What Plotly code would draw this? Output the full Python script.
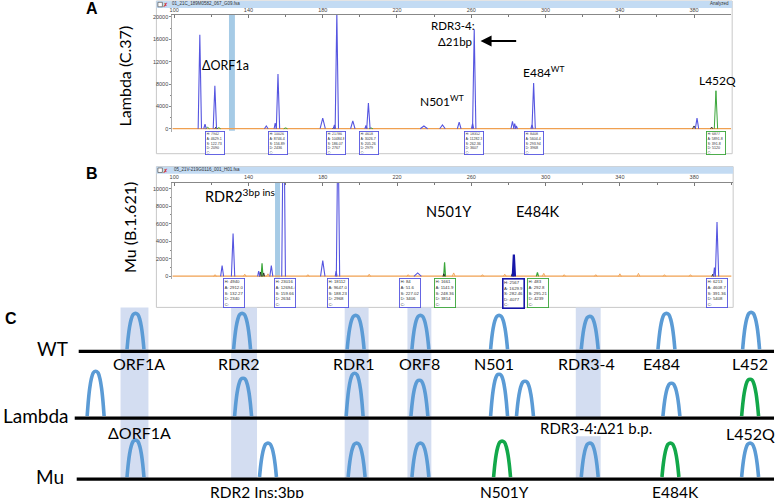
import plotly.graph_objects as go

W, H = 777, 498

# ---------------- Panel A (Lambda, C.37) electropherogram: peaks (bp, height RFU, half-width bp)
A_blue_pos = [113.8, 116.6, 121.9, 149.6, 154.4, 155.9, 180.0, 186.3, 187.6, 196.2, 203.3, 204.6,
              234.5, 244.5, 253.5, 260.7, 261.6, 282.2, 283.4, 284.3, 292.7, 293.6, 381.6]
A_blue_h = [16800, 800, 7700, 500, 1000, 9800, 1900, 700, 20800, 1400, 600, 4600,
            500, 700, 1200, 900, 17800, 1300, 900, 500, 700, 8200, 1900]
A_blue_w = [0.9, 0.7, 0.9, 1.0, 0.6, 0.9, 1.4, 0.6, 0.9, 1.2, 0.6, 0.9,
            2.0, 1.5, 1.0, 0.6, 0.9, 0.8, 0.6, 0.6, 0.6, 0.9, 0.9]
A_green_pos = [118.0, 124.0, 160.0, 206.0, 391.8]
A_green_h = [250, 200, 150, 150, 6800]
A_green_w = [1.0, 1.0, 1.0, 1.0, 0.9]
A_black_pos = [122.5, 186.0, 380.0, 389.5]
A_black_h = [300, 300, 500, 300]
A_black_w = [0.6, 0.6, 0.8, 0.6]

A_boxes_pos = [122.0, 156.0, 187.3, 205.0, 261.6, 293.6, 391.6]
A_boxes_dye = ["blue", "blue", "blue", "blue", "blue", "blue", "green"]
A_boxes_text = ["H: 7942<br>A: 4629.1<br>S: 122.73<br>D: 2090<br>C:",
                "H: 10026<br>A: 8746.4<br>S: 156.89<br>D: 2436<br>C:",
                "H: 21786<br>A: 10484.8<br>S: 186.07<br>D: 2767<br>C:",
                "H: 4618<br>A: 3026.7<br>S: 205.26<br>D: 2979<br>C:",
                "H: 18352<br>A: 11282.3<br>S: 262.36<br>D: 3607<br>C:",
                "H: 8408<br>A: 5604.4<br>S: 293.94<br>D: 3968<br>C:",
                "H: 6877<br>A: 5891.8<br>S: 391.8<br>D: 5120<br>C:"]

# ---------------- Panel B (Mu, B.1.621) electropherogram
B_blue_pos = [125.8, 131.7, 145.5, 152.3, 158.9, 180.0, 187.2, 188.2, 231.1, 390.9, 392.3]
B_blue_h = [1250, 4900, 600, 1250, 23000, 1800, 600, 18100, 400, 1000, 6200]
B_blue_w = [0.8, 0.9, 0.6, 0.8, 1.0, 1.2, 0.5, 0.9, 2.0, 0.5, 0.9]
B_navy_pos = [282.9]
B_navy_h = [2500]
B_navy_w = [0.6]
B_green_pos = [147.3, 245.6, 295.6]
B_green_h = [1500, 1600, 450]
B_green_w = [0.5, 0.5, 0.6]
B_black_pos = [146.4, 148.2, 245.2, 282.0, 390.0]
B_black_h = [500, 400, 300, 300, 250]
B_black_w = [0.5, 0.5, 0.5, 0.5, 0.5]
B_orange_pos = [122, 138, 150.5, 172, 205, 226, 250.5, 266, 278, 299, 310, 327, 340, 350, 364, 378]
B_orange_h = [200, 250, 300, 200, 250, 200, 400, 200, 250, 350, 200, 200, 300, 350, 200, 200]
B_orange_w = [0.8] * 16

B_boxes_pos = [132.0, 159.4, 188.4, 227.0, 245.8, 282.9, 295.8, 392.4]
B_boxes_dye = ["blue", "blue", "blue", "blue", "green", "navy", "green", "blue"]
B_boxes_text = ["H: 4940<br>A: 2912.0<br>S: 132.27<br>D: 2340<br>C:",
                "H: 23016<br>A: 12694.4<br>S: 159.66<br>D: 2634<br>C:",
                "H: 18112<br>A: 9647.0<br>S: 188.23<br>D: 2968<br>C:",
                "H: 84<br>A: 51.6<br>S: 227.02<br>D: 3406<br>C:",
                "H: 1661<br>A: 1141.9<br>S: 248.36<br>D: 3814<br>C:",
                "H: 2567<br>A: 1629.9<br>S: 282.46<br>D: 4077<br>C:",
                "H: 483<br>A: 292.8<br>S: 295.21<br>D: 4239<br>C:",
                "H: 6213<br>A: 4608.7<br>S: 391.36<br>D: 5408<br>C:"]

size_ticks = [100, 140, 180, 220, 260, 300, 340, 380]
A_rfu_ticks = [0, 4000, 8000, 12000, 16000, 20000]
B_rfu_ticks = [0, 2000, 4000, 6000, 8000, 10000]

# ---------------- Panel C schematic (relative fragment positions)
row_names = ["WT", "Lambda", "Mu"]
row_level = [147, 80, 19]
row_start = [76, 72, 74]
row_end = [774, 774, 774]

wt_pos = [133, 240, 354, 419, 498, 589, 666, 751]
wt_h = [38, 38, 36, 36, 36, 35, 38, 39]
wt_type = ["wt"] * 8
wt_labels = ["ORF1A", "RDR2", "RDR1", "ORF8", "N501", "RDR3-4", "E484", "L452"]
wt_label_x = [137, 237, 352, 418, 493, 586, 661, 750]

lambda_pos = [93, 241, 353, 418, 498, 524, 671, 750]
lambda_h = [47, 40, 45, 38, 44, 37, 35, 39]
lambda_type = ["wt", "wt", "wt", "wt", "wt", "wt", "wt", "mut"]
lambda_labels = ["ΔORF1A", "RDR3-4:Δ21 b.p.", "L452Q"]
lambda_label_x = [137, 595, 750]

mu_pos = [133, 266, 355, 419, 501, 589, 670, 750]
mu_h = [39, 36, 36, 36, 38, 36, 36, 36]
mu_type = ["wt", "wt", "wt", "wt", "mut", "wt", "mut", "wt"]
mu_labels = ["RDR2 Ins:3bp", "N501Y", "E484K"]
mu_label_x = [255, 503, 675]

# locus windows (shaded): centre, width, vertical segments
band_center = [132, 242, 355, 418, 587.5]
band_width = [28, 26, 24, 24, 25]
band_segments = [[(19, 191)], [(19, 191)], [(19, 191)], [(19, 191)], [(19, 62), (81, 191)]]

# arch glyph template (normalized)
ARCH_DX = [-1.0, -0.85, -0.7, -0.5, -0.3, -0.12, 0.0, 0.12, 0.3, 0.5, 0.7, 0.85, 1.0]
ARCH_DY = [0.0, 0.36, 0.62, 0.84, 0.96, 0.995, 1.0, 0.995, 0.96, 0.84, 0.62, 0.36, 0.0]

DYE = {"blue": "#5555e0", "green": "#3aa63a", "navy": "#1616a8", "black": "#222222",
       "orange": "#f0a050"}
ARCH_COL = {"wt": "#5b9bd5", "mut": "#12a84a"}
FONT = "Lato"


def px(v):
    return v / W


def py(v):
    return 1 - v / H


def peaks_xy(pos, hts, wid):
    xs, ys = [], []
    for p, h, w in zip(pos, hts, wid):
        xs += [p - w, p, p + w, None]
        ys += [0, h, 0, None]
    return xs, ys


fig = go.Figure()

# baselines
for ax_x, ax_y in (("x", "y"), ("x2", "y2")):
    fig.add_trace(go.Scatter(x=[99, 400], y=[30, 30], mode="lines", xaxis=ax_x, yaxis=ax_y,
                             line=dict(color=DYE["orange"], width=1.3), hoverinfo="skip",
                             showlegend=False))

A_sets = [("green", A_green_pos, A_green_h, A_green_w, 1.0),
          ("black", A_black_pos, A_black_h, A_black_w, 0.9),
          ("blue", A_blue_pos, A_blue_h, A_blue_w, 1.1)]
for dye, p, h, w, lw in A_sets:
    xs, ys = peaks_xy(p, h, w)
    fig.add_trace(go.Scatter(x=xs, y=ys, mode="lines", xaxis="x", yaxis="y",
                             line=dict(color=DYE[dye], width=lw), hoverinfo="skip", showlegend=False))

B_sets = [("orange", B_orange_pos, B_orange_h, B_orange_w, 0.9),
          ("green", B_green_pos, B_green_h, B_green_w, 1.2),
          ("black", B_black_pos, B_black_h, B_black_w, 0.9),
          ("blue", B_blue_pos, B_blue_h, B_blue_w, 1.1),
          ("navy", B_navy_pos, B_navy_h, B_navy_w, 2.2)]
for dye, p, h, w, lw in B_sets:
    xs, ys = peaks_xy(p, h, w)
    fig.add_trace(go.Scatter(x=xs, y=ys, mode="lines", xaxis="x2", yaxis="y2",
                             line=dict(color=DYE[dye], width=lw), hoverinfo="skip", showlegend=False))

# schematic rows
for lvl, x0, x1 in zip(row_level, row_start, row_end):
    fig.add_trace(go.Scatter(x=[x0, x1], y=[lvl, lvl], mode="lines", xaxis="x3", yaxis="y3",
                             line=dict(color="black", width=3.2), hoverinfo="skip", showlegend=False))

HALF = 8.5
for lvl, pos, hts, types in ((row_level[0], wt_pos, wt_h, wt_type),
                             (row_level[1], lambda_pos, lambda_h, lambda_type),
                             (row_level[2], mu_pos, mu_h, mu_type)):
    for p, h, t in zip(pos, hts, types):
        fig.add_trace(go.Scatter(x=[p + d * HALF for d in ARCH_DX],
                                 y=[lvl + 2 + d * (h - 2) for d in ARCH_DY],
                                 mode="lines", xaxis="x3", yaxis="y3",
                                 line=dict(color=ARCH_COL[t], width=3.6, shape="spline"),
                                 hoverinfo="skip", showlegend=False))

shapes = []
# window frames
for top, bottom, right in ((0, 153, 732), (166, 307, 733)):
    shapes.append(dict(type="rect", xref="paper", yref="paper", x0=px(154), x1=px(right),
                       y0=py(bottom), y1=py(top), line=dict(color="#c8c8c8", width=1),
                       fillcolor="rgba(0,0,0,0)", layer="below"))
    shapes.append(dict(type="rect", xref="paper", yref="paper", x0=px(154), x1=px(right),
                       y0=py(top + 7), y1=py(top), line=dict(width=0), fillcolor="#c3dbf3",
                       layer="below"))
    shapes.append(dict(type="rect", xref="paper", yref="paper", x0=px(155.5), x1=px(160),
                       y0=py(top + 5.8), y1=py(top + 1.3), line=dict(color="#555", width=0.7),
                       fillcolor="white"))

# highlighted bands in electropherograms
shapes.append(dict(type="rect", xref="x", yref="paper", x0=129.5, x1=132.7, y0=py(130), y1=py(13),
                   fillcolor="#a6cbe6", line=dict(width=0), layer="below"))
shapes.append(dict(type="rect", xref="x2", yref="paper", x0=154.3, x1=157.0, y0=py(277), y1=py(182),
                   fillcolor="#a6cbe6", line=dict(width=0), layer="below"))
# schematic bands
for c, wd, segs in zip(band_center, band_width, band_segments):
    for y0, y1 in segs:
        shapes.append(dict(type="rect", xref="x3", yref="y3", x0=c - wd / 2, x1=c + wd / 2, y0=y0, y1=y1,
                           fillcolor="#d3ddf1", line=dict(width=0), layer="below"))

ann = []
# panel letters
for letter, x, y in (("A", 89, 8), ("B", 89, 173), ("C", 8, 318)):
    ann.append(dict(text="<b>%s</b>" % letter, x=px(x), y=py(y), xref="paper", yref="paper",
                    xanchor="center", yanchor="middle",
                    showarrow=False, font=dict(family="Liberation Sans", size=16, color="black")))
# y titles
ann.append(dict(text="Lambda (C.37)", x=px(122), y=py(75), xref="paper", yref="paper", textangle=-90,
                xanchor="center", yanchor="middle",
                showarrow=False, font=dict(family=FONT, size=16, color="black")))
ann.append(dict(text="Mu (B.1.621)", x=px(127), y=py(227), xref="paper", yref="paper", textangle=-90,
                xanchor="center", yanchor="middle",
                showarrow=False, font=dict(family=FONT, size=16, color="black")))
# window titles
ann.append(dict(text="01_21C_189M0582_067_G09.fsa", x=px(168), y=py(2.8), xref="paper", yref="paper",
                xanchor="left", yanchor="middle", showarrow=False,
                font=dict(family="Liberation Sans", size=4.5, color="#333")))
ann.append(dict(text="Analyzed", x=px(731), y=py(2.8), xref="paper", yref="paper",
                xanchor="right", yanchor="middle", showarrow=False,
                font=dict(family="Liberation Sans", size=4.5, color="#333")))
ann.append(dict(text="05_21V-219G0116_001_H01.fsa", x=px(170), y=py(168.8), xref="paper", yref="paper",
                xanchor="left", yanchor="middle", showarrow=False,
                font=dict(family="Liberation Sans", size=4.5, color="#333")))
for top in (0, 166):
    ann.append(dict(text="✗", x=px(163.5), y=py(top + 3.5), xref="paper", yref="paper",
                    xanchor="center", yanchor="middle",
                    showarrow=False, font=dict(family="DejaVu Sans", size=6, color="#d02020")))

# panel A labels
for txt, x, y, sz in (("ΔORF1a", 127.4, 11250, 12.5), ("RDR3-4:", 250, 18400, 11.5),
                      ("Δ21bp", 251, 15700, 11.5), ("N501<sup>WT</sup>", 244, 5000, 12),
                      ("E484<sup>WT</sup>", 298.8, 10180, 12), ("L452Q", 392.8, 8570, 12)):
    ann.append(dict(text=txt, x=x, y=y, xref="x", yref="y", showarrow=False,
                    xanchor="center", yanchor="middle",
                    font=dict(family=FONT, size=sz, color="black")))
ann.append(dict(text="", x=265, y=15700, ax=285, ay=15700, xref="x", yref="y", axref="x", ayref="y",
                showarrow=True, arrowhead=2, arrowsize=1, arrowwidth=2.2, arrowcolor="black"))
# panel B labels
for txt, x, y in (("RDR2<sup>3bp ins</sup>", 135.4, 9200), ("N501Y", 247.8, 7380), ("E484K", 296, 7380)):
    ann.append(dict(text=txt, x=x, y=y, xref="x2", yref="y2", showarrow=False,
                    xanchor="center", yanchor="middle",
                    font=dict(family=FONT, size=14.5, color="black")))

# info boxes
for poslist, dyes, texts, xr, top, wdt, hgt, fs in ((A_boxes_pos, A_boxes_dye, A_boxes_text, "x", 130, 17, 21, 3.6),
                                                    (B_boxes_pos, B_boxes_dye, B_boxes_text, "x2", 278, 19, 27, 4.3)):
    for p, d, t in zip(poslist, dyes, texts):
        ann.append(dict(text=t, x=p, y=py(top), xref=xr, yref="paper", xanchor="center", yanchor="top",
                        showarrow=False, align="left", bgcolor="white", bordercolor=DYE[d],
                        borderwidth=1.6 if d == "navy" else 0.9, borderpad=0.5,
                        width=wdt, height=hgt, valign="top",
                        font=dict(family="Liberation Sans", size=fs, color="#333")))

# schematic labels
for name, lvl, x in zip(row_names, row_level, [50, 33.5, 47]):
    ann.append(dict(text=name, x=x, y=lvl + 3, xref="x3", yref="y3", showarrow=False,
                    xanchor="center", yanchor="middle",
                    font=dict(family=FONT, size=19, color="black")))
for t, x in zip(wt_labels, wt_label_x):
    ann.append(dict(text=t, x=x, y=135, xref="x3", yref="y3", showarrow=False,
                    xanchor="center", yanchor="middle",
                    font=dict(family=FONT, size=16, color="black")))
for t, x, y, sz in zip(lambda_labels, lambda_label_x, [66, 70, 65], [16, 15, 16]):
    ann.append(dict(text=t, x=x, y=y, xref="x3", yref="y3", showarrow=False,
                    xanchor="center", yanchor="middle",
                    font=dict(family=FONT, size=sz, color="black")))
for t, x in zip(mu_labels, mu_label_x):
    ann.append(dict(text=t, x=x, y=6.5, xref="x3", yref="y3", showarrow=False,
                    xanchor="center", yanchor="middle",
                    font=dict(family=FONT, size=15.5, color="black")))

tickfont = dict(family="Liberation Sans", size=5.5, color="#444")
xcommon = dict(tickvals=size_ticks, side="top", ticks="inside", ticklen=3, tickcolor="#777",
               showline=True, linecolor="#888", linewidth=1, showgrid=False, zeroline=False,
               tickfont=tickfont, minor=dict(ticks="inside", ticklen=2, dtick=20, tick0=100, tickcolor="#777"),
               fixedrange=True)
ycommon = dict(ticks="outside", ticklen=2, tickcolor="#888", showline=True, linecolor="#aaa",
               linewidth=1, showgrid=False, zeroline=False, tickfont=tickfont, tickformat="d",
               fixedrange=True)

fig.update_layout(
    width=W, height=H, margin=dict(l=0, r=0, t=0, b=0),
    paper_bgcolor="white", plot_bgcolor="white", showlegend=False,
    xaxis=dict(domain=[px(170), px(731)], range=[99, 400], anchor="y", **xcommon),
    yaxis=dict(domain=[py(131), py(14)], range=[-536, 20357], anchor="x", tickvals=A_rfu_ticks,
               minor=dict(ticks="outside", ticklen=1.5, dtick=2000, tick0=0, tickcolor="#888"), **ycommon),
    xaxis2=dict(domain=[px(170), px(733)], range=[99, 401], anchor="y2", **xcommon),
    yaxis2=dict(domain=[py(279), py(182)], range=[-341, 10682], anchor="x2", tickvals=B_rfu_ticks,
                minor=dict(ticks="outside", ticklen=1.5, dtick=1000, tick0=0, tickcolor="#888"), **ycommon),
    xaxis3=dict(domain=[0, 1], range=[0, 777], anchor="y3", visible=False, fixedrange=True),
    yaxis3=dict(domain=[0, py(300)], range=[0, 198], anchor="x3", visible=False, fixedrange=True),
    shapes=shapes, annotations=ann,
)

fig.write_html("out.html", config={"displayModeBar": False},
               post_script="document.body.style.margin='0px';document.body.style.overflow='hidden';")
